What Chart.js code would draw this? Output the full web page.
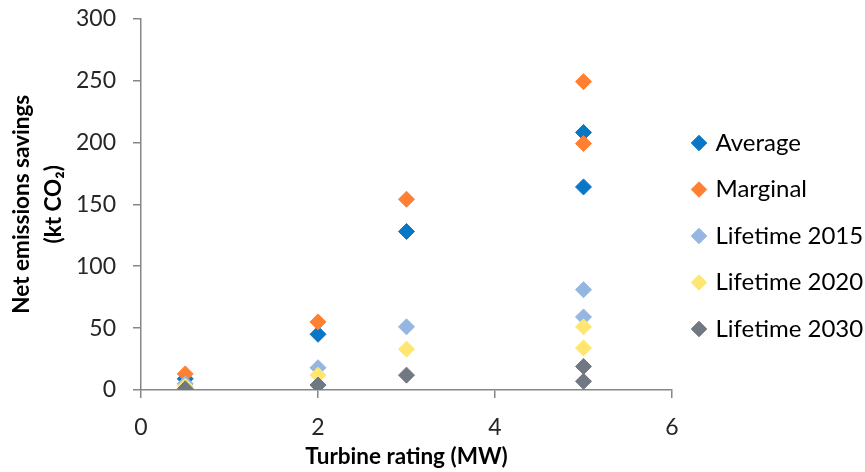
<!DOCTYPE html>
<html>
<head>
<meta charset="utf-8">
<script src="https://cdn.jsdelivr.net/npm/chart.js@4"></script>
<style>
  html, body { margin: 0; padding: 0; background: #fff; }
  #wrap { width: 865px; height: 472px; }
</style>
</head>
<body>
<div id="wrap"><canvas id="myChart" width="865" height="472"></canvas></div>
<script>
// turbine rating (MW) for each point
const ratings = [0.5, 2, 3, 5, 5];

const seriesNames = ['Average', 'Marginal', 'Lifetime 2015', 'Lifetime 2020', 'Lifetime 2030'];
const average = [9, 45, 128, 208, 164];
const marginal = [13, 55, 154, 249, 199];
const lifetime2015 = [5, 18, 51, 81, 59];
const lifetime2020 = [3, 12, 33, 51, 34];
const lifetime2030 = [1, 4, 12, 19, 7];

const yTicks = [0, 50, 100, 150, 200, 250, 300];
const xTicks = [0, 2, 4, 6];

const colors = ['#0877c6', '#ff8033', '#95b6e0', '#ffe670', '#727882'];
const values = [average, marginal, lifetime2015, lifetime2020, lifetime2030];

const datasets = values.map((vals, i) => ({
  label: seriesNames[i],
  data: vals.map((v, j) => ({ x: ratings[j], y: v })),
  backgroundColor: colors[i],
  borderColor: colors[i],
  borderWidth: 1,
  pointStyle: 'rectRot',
  pointRadius: 8,
  pointHoverRadius: 8,
  order: values.length - i   // later series drawn on top, like Excel
}));

const axisGrey = '#868686';
const font = 'Lato';

new Chart(document.getElementById('myChart').getContext('2d'), {
  type: 'scatter',
  data: { datasets: datasets },
  options: {
    responsive: false,
    animation: false,
    layout: { padding: 0 },
    plugins: {
      tooltip: { enabled: false },
      legend: {
        position: 'right',
        align: 'center',
        maxWidth: 193,
        labels: {
          usePointStyle: true,
          boxWidth: 9,
          boxHeight: 11,
          padding: 22.5,
          color: '#000',
          font: { family: font, size: 24 },
          sort: (a, b) => a.datasetIndex - b.datasetIndex
        }
      }
    },
    scales: {
      x: {
        type: 'linear',
        min: 0,
        max: 6,
        afterBuildTicks: s => { s.ticks = xTicks.map(v => ({ value: v })); },
        afterFit: s => { s.height = 82; },
        border: { color: axisGrey, width: 1.5 },
        grid: { drawOnChartArea: false, drawTicks: true, tickLength: 8, color: axisGrey, lineWidth: 1.5 },
        ticks: { color: '#262626', padding: 16, font: { family: font, size: 23 } },
        title: {
          display: true,
          text: 'Turbine rating (MW)',
          color: '#000',
          padding: { top: 0, bottom: 2 },
          font: { family: font, size: 22.5, weight: 'bold' }
        }
      },
      y: {
        type: 'linear',
        min: 0,
        max: 300,
        afterBuildTicks: s => { s.ticks = yTicks.map(v => ({ value: v })); },
        afterFit: s => { s.width = 141; s.paddingTop = 18.5; },
        border: { color: axisGrey, width: 1.5 },
        grid: { drawOnChartArea: false, drawTicks: true, tickLength: 8, color: axisGrey, lineWidth: 1.5 },
        ticks: { color: '#262626', padding: 17, font: { family: font, size: 23 } },
        title: {
          display: true,
          text: ['Net emissions savings', '(kt CO\u2082)'],
          color: '#000',
          padding: { top: 6, bottom: 0 },
          font: { family: font, size: 22.5, weight: 'bold', lineHeight: 1.42 }
        }
      }
    }
  }
});
</script>
</body>
</html>
